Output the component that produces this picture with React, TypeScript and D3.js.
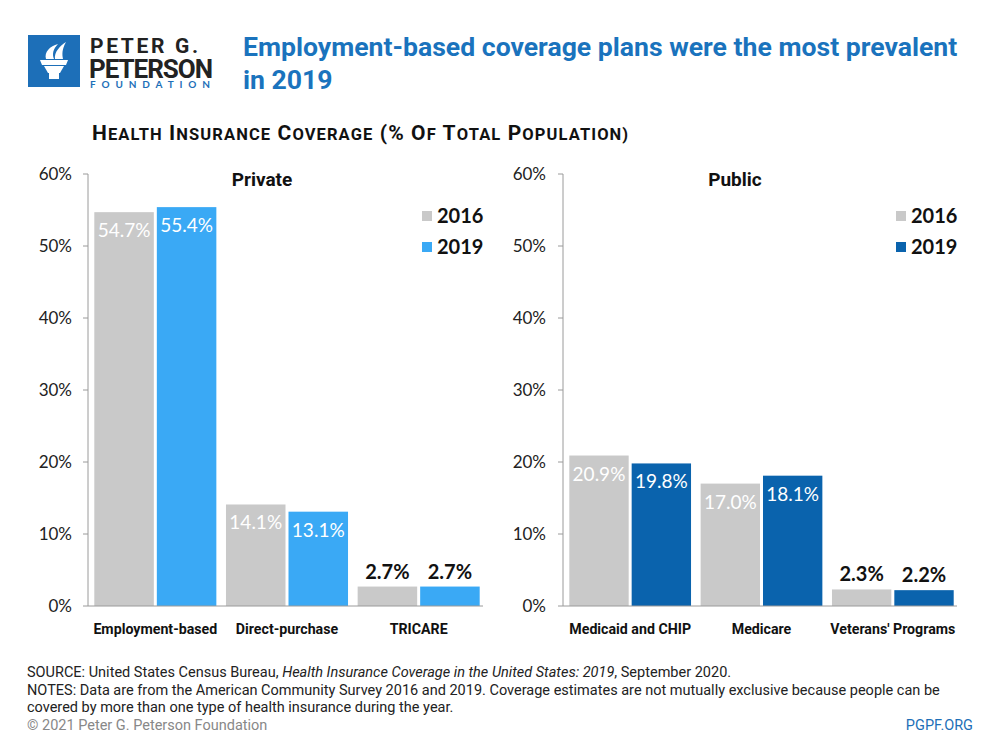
import React from "react";
import * as d3 from "d3";

const years = ["2016", "2019"];
const privateCats = ["Employment-based", "Direct-purchase", "TRICARE"];
const private2016 = [54.7, 14.1, 2.7];
const private2019 = [55.4, 13.1, 2.7];
const publicCats = ["Medicaid and CHIP", "Medicare", "Veterans' Programs"];
const public2016 = [20.9, 17.0, 2.3];
const public2019 = [19.8, 18.1, 2.2];
const yTicks = [0, 10, 20, 30, 40, 50, 60];

const GRAY = "#c9c9c9";
const LIGHTBLUE = "#3aa9f5";
const DARKBLUE = "#0a63ad";
const TITLEBLUE = "#1a73bd";
const FONT = "Lato, 'Open Sans', sans-serif";
const COND = "Roboto, sans-serif";

type PanelProps = {
  cats: string[];
  v16: number[];
  v19: number[];
  axisX: number;
  endX: number;
  labelX: number;
  title: string;
  titleX: number;
  color19: string;
  legendX: number;
};

const y = d3.scaleLinear().domain([0, 60]).range([606, 174]);

function Panel({ cats, v16, v19, axisX, endX, labelX, title, titleX, color19, legendX }: PanelProps) {
  const x0 = d3.scaleBand<string>().domain(cats).range([axisX + 1.5, endX + 1.5]).padding(0);
  const x1 = d3
    .scaleBand<string>()
    .domain(years)
    .range([0, x0.bandwidth()])
    .paddingInner(0.048)
    .paddingOuter(0.077);
  const colors = [GRAY, color19];
  const series = [v16, v19];
  return (
    <g>
      <line x1={axisX} x2={axisX} y1={y(60)} y2={y(0)} stroke="#9a9a9a" strokeWidth={1} />
      {yTicks.map((t) => (
        <g key={t}>
          <line x1={axisX - 5} x2={axisX} y1={y(t)} y2={y(t)} stroke="#9a9a9a" />
          <text
            x={labelX}
            y={y(t)}
            dy="0.35em"
            textAnchor="end"
            fontFamily={FONT}
            fontSize={17}
            fill="#222"
          >
            {t}%
          </text>
        </g>
      ))}
      {cats.map((c, i) => (
        <g key={c} transform={`translate(${x0(c)},0)`}>
          {years.map((yr, j) => {
            const v = series[j][i];
            const bx = x1(yr)!;
            const bw = x1.bandwidth();
            const top = y(v);
            const inside = v > 8;
            return (
              <g key={yr}>
                <rect x={bx} y={top} width={bw} height={y(0) - top} fill={colors[j]} />
                <text
                  x={bx + bw / 2}
                  y={inside ? top + 25 : top - 8}
                  textAnchor="middle"
                  fontFamily={FONT}
                  fontSize={inside ? 19 : 20}
                  fontWeight={inside ? 400 : 700}
                  fill={inside ? "#fff" : "#111"}
                >
                  {v.toFixed(1)}%
                </text>
              </g>
            );
          })}
          <text
            x={x0.bandwidth() / 2}
            y={634}
            textAnchor="middle"
            fontFamily={COND}
            fontWeight={700}
            fontSize={14.2}
            fill="#111"
          >
            {c}
          </text>
        </g>
      ))}
      <line x1={axisX} x2={endX} y1={y(0)} y2={y(0)} stroke="#9a9a9a" strokeWidth={1} />
      <text
        x={titleX}
        y={186}
        textAnchor="middle"
        fontFamily={COND}
        fontWeight={700}
        fontSize={19}
        fill="#111"
      >
        {title}
      </text>
      {years.map((yr, j) => (
        <g key={yr} transform={`translate(${legendX},${216 + j * 31})`}>
          <rect x={0} y={-5} width={10} height={10} fill={colors[j]} />
          <text x={15} y={0} dy="0.36em" fontFamily={FONT} fontWeight={700} fontSize={20} fill="#111">
            {yr}
          </text>
        </g>
      ))}
    </g>
  );
}

function SmallCaps({ text, x, yPos }: { text: string; x: number; yPos: number }) {
  const parts: React.ReactNode[] = [];
  const words = text.split(" ");
  words.forEach((w, wi) => {
    let k = 0;
    while (k < w.length && !/[a-z]/.test(w[k])) k++;
    const head = w.slice(0, k);
    const rest = w.slice(k);
    parts.push(
      <tspan key={wi + "a"} fontSize={21}>
        {(wi > 0 ? " " : "") + head}
      </tspan>
    );
    if (rest) {
      parts.push(
        <tspan key={wi + "b"} fontSize={16.5}>
          {rest.toUpperCase()}
        </tspan>
      );
    }
  });
  return (
    <text x={x} y={yPos} fontFamily={COND} fontWeight={700} fill="#111" letterSpacing={1.1}>
      {parts}
    </text>
  );
}

export default function App() {
  return (
    <svg width={1000} height={750} style={{ display: "block", margin: "-8px", background: "#fff" }}>
      <rect width={1000} height={750} fill="#fff" />
      <g>
        <rect x={28} y={35} width={52} height={52} fill="#1d6fb8" />
        <g fill="#fff">
          <path d="M40 60 L68 60 L66 65 L42 65 Z" />
          <path d="M44 66 L64 66 L60 73 L48 73 Z" />
          <rect x={49} y={73} width={10} height={6} />
          <path d="M46 59 C44 52 50 46 58 44 C53 49 52 54 54 59 Z" />
          <path d="M55 59 C54 52 60 46 66 42 C62 49 62 54 63 59 Z" />
        </g>
        <text x={90} y={53} fontFamily={COND} fontWeight={700} fontSize={21} fill="#222" textLength={108}>
          PETER G.
        </text>
        <text x={89} y={78} fontFamily={COND} fontWeight={700} fontSize={26} fill="#222" textLength={124}>
          PETERSON
        </text>
        <text x={90} y={88} fontFamily={FONT} fontWeight={700} fontSize={10} fill="#1d6fb8" textLength={123} letterSpacing={3}>
          FOUNDATION
        </text>
      </g>
      <text fontFamily={COND} fontWeight={700} fontSize={26.6} fill={TITLEBLUE}>
        <tspan x={243} y={56}>Employment-based coverage plans were the most prevalent</tspan>
        <tspan x={243} y={89}>in 2019</tspan>
      </text>
      <SmallCaps text="Health Insurance Coverage (% Of Total Population)" x={92} yPos={140} />

      <Panel
        cats={privateCats}
        v16={private2016}
        v19={private2019}
        axisX={88}
        endX={483}
        labelX={72}
        title="Private"
        titleX={262}
        color19={LIGHTBLUE}
        legendX={422}
      />
      <Panel
        cats={publicCats}
        v16={public2016}
        v19={public2019}
        axisX={563}
        endX={957}
        labelX={546}
        title="Public"
        titleX={735}
        color19={DARKBLUE}
        legendX={896}
      />

      <g fontFamily={COND} fontSize={14.5} fill="#222">
        <text x={27} y={677}>
          SOURCE: United States Census Bureau, <tspan fontStyle="italic">Health Insurance Coverage in the United States: 2019</tspan>, September 2020.
        </text>
        <text x={27} y={695}>
          NOTES: Data are from the American Community Survey 2016 and 2019. Coverage estimates are not mutually exclusive because people can be
        </text>
        <text x={27} y={712}>covered by more than one type of health insurance during the year.</text>
        <text x={27} y={730} fill="#888">© 2021 Peter G. Peterson Foundation</text>
        <text x={973} y={730} textAnchor="end" fill="#1d6fb8">PGPF.ORG</text>
      </g>
    </svg>
  );
}
